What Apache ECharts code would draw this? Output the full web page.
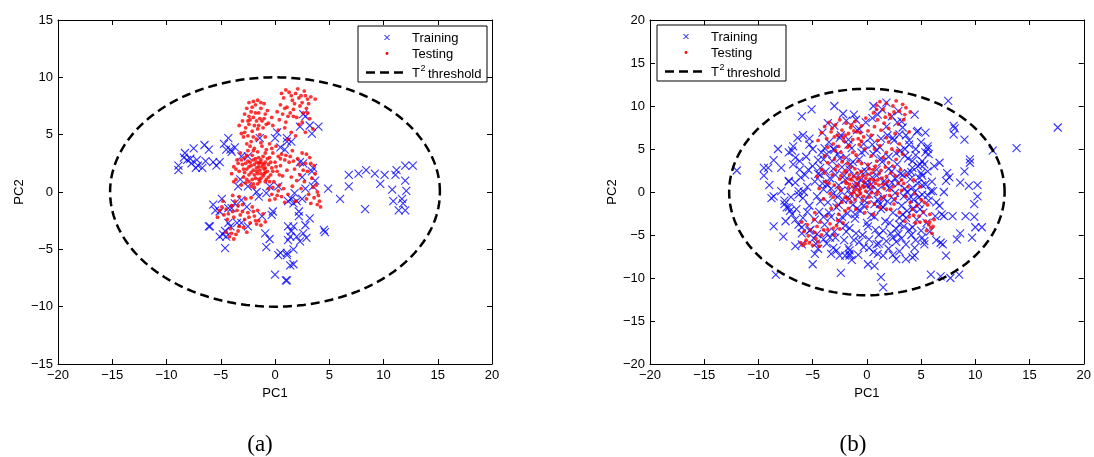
<!DOCTYPE html>
<html>
<head>
<meta charset="utf-8">
<script src="https://cdn.jsdelivr.net/npm/echarts@6/dist/echarts.min.js"></script>
<style>
html,body{margin:0;padding:0;background:#fff;}
#chart{width:1094px;height:457px;}
</style>
</head>
<body>
<div id="chart"></div>
<script>
// ---------- data ----------
const xTicksA = [-20, 20, 5];   // min, max, interval
const yTicksA = [-15, 15, 5];
const xTicksB = [-20, 20, 5];
const yTicksB = [-20, 20, 5];

// T^2 threshold ellipse semi-axes [PC1, PC2]
const ellipseAxesA = [15.2, 10.0];
const ellipseAxesB = [12.7, 12.0];

const trainA = [
[-8.3,3.4],[-7.5,3.8],[-8.4,3.0],[-8.1,2.8],[-7.7,2.5],[-7.2,2.8],[-7.3,2.1],[-6.7,2.1],[-6.4,2.7],[-5.7,2.6],
[-5.1,2.6],[-5.4,2.3],[-8.9,2.3],[-8.9,1.9],[-6.5,4.1],[-6.1,3.7],[-4.7,4.2],[-4.3,4.7],[-4.1,3.7],[-3.7,3.9],
[-4.5,3.7],[-4.0,3.5],[-7.8,2.9],[-7.1,2.3],[-3.1,3.1],[-2.5,3.1],[-1.4,4.7],[-3.2,1.1],[-3.4,0.5],[-2.5,0.5],
[-1.7,0.0],[-1.5,-0.4],[-0.8,-0.1],[-0.5,0.5],[0.3,0.5],[0.0,4.7],[0.2,5.2],[0.5,3.9],[1.1,4.4],[0.9,3.7],
[-4.9,-0.6],[-5.7,-1.1],[-5.5,-1.6],[-5.1,-1.7],[-4.3,-1.4],[-4.0,-1.4],[-3.7,-1.0],[-3.1,-0.7],[-2.6,-1.3],[-3.5,-2.7],
[-3.1,-2.7],[-2.5,-3.0],[-4.3,-2.7],[-4.1,-3.0],[-4.6,-3.4],[-4.8,-3.7],[-5.1,-3.9],[-4.5,-3.9],[-4.6,-4.9],[-6.0,-3.0],
[-6.1,-3.0],[-1.2,-2.1],[-0.9,-3.6],[-0.5,-4.1],[-0.8,-4.8],[0.5,-5.3],[0.3,-5.5],[1.1,-5.3],[0.0,-7.2],[1.0,-7.7],
[-0.2,-1.7],[-0.3,-2.0],[1.2,-3.0],
[2.6,6.8],[2.8,6.6],[3.2,5.8],[4.0,5.7],[3.4,5.1],[2.3,5.7],[1.1,4.7],[1.5,4.4],[2.3,2.6],[2.6,2.5],
[3.5,2.1],[3.4,1.8],[2.5,1.3],[3.7,1.0],[2.8,0.3],[3.5,0.5],[1.8,-0.1],[1.5,-0.6],[2.0,-0.8],[1.2,-0.8],
[1.7,-1.0],[2.5,-0.6],[2.2,-1.7],[2.2,-2.1],[3.2,-2.3],[2.8,-2.9],[1.7,-3.0],[1.5,-3.4],[1.4,-3.9],[2.0,-3.9],
[2.6,-3.6],[2.9,-4.0],[2.3,-4.3],[1.2,-4.2],[4.5,-3.3],[4.6,-3.5],[4.9,0.3],[6.0,-0.6],[6.8,1.5],[7.7,1.6],
[8.4,1.9],[9.2,1.6],[10.1,1.5],[6.8,0.5],[9.7,0.7],[8.3,-1.5],[11.2,1.9],[11.1,1.5],[12.0,2.3],[12.7,2.3],
[12.0,1.0],[10.8,0.2],[12.1,0.1],[10.9,-0.8],[11.7,-0.6],[11.8,-1.0],[11.4,-1.6],[12.0,-1.6],[1.7,-5.0],[1.1,-5.5],
[1.7,-6.3],[1.1,-7.7],[1.4,-6.4]
];

const testA = [
[-3.0,6.2],[-2.8,6.8],[-2.6,7.3],[-2.4,7.8],[-2.2,7.0],[-2.0,6.5],[-1.8,7.6],[-1.6,8.0],[-1.5,6.9],[-1.3,7.3],
[-1.2,6.2],[-1.0,7.7],[-0.9,6.8],[-2.7,5.6],[-2.4,5.9],[-2.1,5.3],[-1.9,5.8],[-1.6,5.5],[-1.4,5.0],[-1.1,5.6],
[-0.8,5.9],[-3.1,5.1],[-2.9,4.8],[-2.5,4.9],[-2.2,4.4],[-1.7,4.6],[-1.3,4.3],[-0.9,4.8],[-2.0,7.9],[-1.8,6.9],
[-2.3,6.3],[-1.4,6.4],[-0.7,7.1],[-3.3,5.8],[-2.6,4.2],
[0.2,7.0],[0.5,7.6],[0.8,8.2],[1.1,7.4],[1.3,8.7],[1.6,8.0],[1.9,8.6],[2.1,9.0],[2.4,8.4],[2.7,8.8],
[3.0,8.1],[3.3,8.3],[3.7,8.1],[0.4,6.3],[0.7,6.8],[1.0,6.1],[1.4,6.9],[1.7,7.2],[2.0,6.5],[2.3,7.5],
[2.6,6.9],[2.9,7.3],[3.2,6.4],[0.3,5.4],[0.9,5.6],[1.5,5.2],[2.2,5.9],[-0.3,6.5],[-0.2,5.8],[1.2,4.6],
[1.9,4.9],[2.8,5.2],[3.5,5.5],
[-4.0,1.6],[-3.8,2.2],[-3.6,1.1],[-3.5,2.8],[-3.3,1.8],[-3.2,3.4],[-3.0,2.4],[-2.9,1.3],[-2.8,3.0],[-2.7,0.8],
[-2.6,2.0],[-2.5,3.6],[-2.4,1.5],[-2.3,2.6],[-2.2,0.5],[-2.1,3.2],[-2.0,1.9],[-1.9,2.4],[-1.8,1.2],[-1.8,2.9],
[-1.7,2.1],[-1.6,1.6],[-1.6,3.5],[-1.5,2.5],[-1.4,1.9],[-1.4,0.9],[-1.3,2.8],[-1.2,2.2],[-1.1,1.4],[-1.1,3.1],
[-1.0,2.0],[-0.9,2.6],[-0.8,1.1],[-0.8,3.7],[-0.7,1.8],[-0.6,2.4],[-0.5,3.0],[-0.4,1.5],[-0.3,2.1],[-0.2,3.4],
[-0.1,0.9],[0.0,2.6],[0.2,1.8],[0.3,3.1],[0.5,2.3],[0.7,1.4],[0.9,2.8],[1.1,1.9],[-2.3,4.0],[-1.9,3.8],
[-1.2,4.0],[-0.5,4.2],[0.1,4.0],[-2.6,1.1],[-2.0,0.7],[-1.5,1.1],[-3.1,0.6],[-3.4,2.5],[-1.7,2.6],[-1.3,1.6],
[-0.9,1.7],[-2.2,2.3],[-2.5,2.7],[-1.0,2.4],
[1.0,3.2],[1.3,2.6],[1.6,3.6],[1.8,2.0],[2.1,2.9],[2.3,1.5],[2.5,3.4],[2.8,2.5],[3.0,1.8],[3.2,3.0],
[3.4,1.2],[3.6,2.3],[3.8,0.6],[4.0,-0.3],[4.1,-0.8],[4.2,-1.3],[3.9,0.0],[3.5,0.4],[3.1,-0.2],[2.7,0.9],
[2.4,0.3],[2.0,1.0],[1.6,0.5],[-0.6,0.3],[-0.3,-0.2],[0.0,-0.6],[0.3,0.1],[0.6,-0.4],[0.9,-0.9],[-0.5,-0.7],
[0.4,0.6],[1.2,-0.2],[1.5,1.3],[2.9,-0.6],[3.3,-1.0],[1.9,-0.8],
[-5.1,-1.6],[-4.9,-1.3],[-4.7,-2.0],[-4.5,-1.5],[-4.3,-1.9],[-4.0,-1.2],[-3.8,-2.2],[-3.7,-0.8],[-3.5,-1.6],[-3.3,-0.4],
[-3.2,-2.0],[-3.0,-1.1],[-2.8,-2.4],[-2.7,-0.6],[-2.5,-1.8],[-2.3,-2.7],[-2.1,-1.3],[-1.9,-2.1],[-1.7,-2.8],[-1.5,-2.5],
[-1.3,-2.9],[-4.5,-3.5],[-4.2,-3.9],[-4.0,-3.6],[-3.8,-4.1],[-3.6,-3.7],[-3.4,-3.4],[-2.9,-3.1],[-2.6,-3.5],[-4.8,-0.8],
[-5.3,-2.2],[-3.9,-0.3],[-2.2,-0.5],[-1.6,-1.6],[-1.1,-1.9],[-0.9,-2.6],
[-2.9,2.0],[-2.7,2.5],[-2.4,2.2],[-2.2,1.7],[-2.0,2.8],[-1.9,1.5],[-1.7,1.8],[-1.5,2.2],[-1.4,2.6],[-1.3,1.2],
[-1.2,2.5],[-1.0,1.6],[-0.9,2.1],[-0.7,2.9],[-0.6,1.3],[-0.4,2.6],[-0.2,1.8],[0.1,2.2],[0.4,1.5],[0.6,3.3],
[-3.6,2.0],[-3.1,2.8],[-2.6,3.2],[-2.0,3.6],[-1.5,3.0],[-0.9,3.4],[-0.3,3.8],[0.5,2.9],[-2.8,1.7],[-2.1,1.1],
[-1.6,0.7],[-0.9,0.9],[-2.4,6.6],[-2.1,7.4],[-1.7,6.2],[-1.3,7.8],[-1.0,6.4],[-2.8,5.2],[-2.0,4.8],[-1.5,5.8],
[-0.6,6.0],[-2.5,6.2],[0.6,8.6],[1.0,8.9],[1.5,8.4],[1.8,7.7],[2.2,8.2],[2.5,7.8],[2.8,8.4],[3.1,7.7],
[1.2,6.6],[2.5,6.1],[3.0,6.9],[0.9,7.3],[1.7,6.6],[-3.4,-1.2],[-3.0,-1.7],[-2.4,-2.2],[-4.4,-2.4],[-3.9,-1.7],
[-4.1,-3.2],[-3.3,-3.0],[-2.0,-1.7],[-1.8,-2.5],[2.2,2.4],[2.6,1.9],[3.3,2.5],[3.7,1.6],[2.9,3.3],[1.7,2.7],
[0.2,-0.3],[-0.2,0.4],[0.8,0.3],[3.6,-0.5],[3.9,-1.1],[1.4,3.1],[-0.5,0.9],[-1.9,0.4],[-2.4,0.9],[-3.8,0.9]
];

const trainB = [
[-12.0,2.5],[-3.0,10.0],[-5.1,9.6],[-6.0,8.8],[-6.4,6.3],[-5.9,6.6],[-5.3,6.2],[-5.3,5.5],[-8.2,5.0],[-7.2,4.6],
[-6.9,4.8],[-8.6,3.7],[-9.5,2.8],[-9.1,2.8],[-9.5,1.9],[-7.9,2.8],[-9.0,0.8],[-7.2,1.2],[-6.6,1.1],[-8.6,-0.5],
[-8.8,-0.7],[-7.9,0.1],[-7.6,-1.4],[-7.4,-1.8],[-7.1,-2.2],[-8.6,-4.0],[-7.7,-5.2],[-6.6,-6.3],[-6.0,-6.1],[-4.8,-7.2],
[-5.0,-8.4],[-8.4,-9.6],[-2.5,-7.4],[-1.6,-6.8],[-1.6,-7.4],[-2.4,-9.4],[0.1,-8.4],
[7.5,10.6],[4.4,9.0],[8.0,7.7],[8.1,7.4],[9.0,6.1],[8.0,6.7],[11.6,4.8],[9.5,3.8],[9.5,3.4],
[9.0,2.4],[7.4,2.2],[7.6,1.7],[7.3,1.3],[8.6,1.1],[9.4,0.7],[10.2,0.8],[10.2,-0.5],[9.9,-1.4],[9.1,-2.8],
[9.9,-2.9],[10.6,-4.1],[10.0,-4.1],[9.7,-5.3],[8.6,-4.8],[8.3,-5.5],[7.9,-2.8],[7.1,-2.8],[6.9,-2.6],[6.7,-1.6],
[6.4,-1.2],[6.1,0.1],[7.1,0.0],[6.8,-5.9],[7.3,-7.4],[5.9,-9.6],[6.8,-9.8],[7.7,-10.0],[8.5,-9.6],[1.3,-9.9],
[1.5,-11.1],[2.7,-7.8],[3.6,-7.8],[4.2,-7.6],[4.4,-7.4],[1.0,-7.2],[1.5,-7.4],[5.6,2.4],[6.2,3.0],[6.7,3.4],
[5.0,2.2],[5.1,1.9],[5.4,0.9],[5.9,0.1],[4.7,7.1],[5.4,6.9],[5.6,5.3],[5.6,5.0],[5.7,4.4],[5.1,3.6],
[7.0,-6.1],[6.4,-5.6],[5.1,-5.3],[5.3,-6.1],[17.6,7.5],[13.8,5.1],
[-6.6,4.0],[-6.2,3.6],[-7.2,1.3],[-6.3,0.1],[-5.9,-0.7],[-7.6,-1.0],[-7.2,-1.8],[-6.9,-2.6],[-6.6,-3.2],[-6.3,-3.8],
[-6.0,-4.1],[-5.3,-4.5],[-4.6,-4.9],[-4.0,-5.5],[-3.4,-5.3],[-3.1,-6.5],[-1.7,-6.5],[-1.6,-7.2],[-3.7,4.4],[-4.0,3.8],
[-4.3,2.8],[-4.5,2.1],[-1.0,8.4],[-0.1,8.1],[-0.7,7.3],[-2.5,6.3],[-1.7,5.5],[-3.1,5.0],
[0.6,10.0],[1.8,10.4],[2.8,8.1],[3.3,7.5],[3.0,6.7],[2.4,6.3],[3.9,5.5],[4.5,5.0],[3.5,4.2],[4.2,3.6],
[3.8,2.2],[4.8,1.7],[4.2,0.5],[5.1,-0.3],[5.7,-1.0],[4.8,-1.4],[4.2,-2.0],[3.6,-3.0],[3.0,-3.8],[4.2,-4.1],
[5.0,-4.5],[5.3,-5.7],[2.4,-5.3],[1.8,-5.7],[0.9,-6.1],[0.2,-6.5],[1.5,-4.5],[2.7,-4.3],[3.6,-6.1],[4.4,-6.5],
[-5.0,3.0],[-4.8,1.2],[-4.6,-0.5],[-4.4,-2.3],[-4.2,4.6],[-4.0,0.3],[-3.9,-3.8],[-3.8,2.4],[-3.6,-1.2],[-3.5,5.8],
[-3.4,1.6],[-3.3,-2.9],[-3.2,3.6],[-3.1,-0.2],[-3.0,-4.6],[-2.9,2.0],[-2.8,-1.8],[-2.7,4.4],[-2.6,0.8],[-2.5,-3.4],
[-2.4,6.6],[-2.3,2.9],[-2.2,-0.9],[-2.1,-5.6],[-2.0,1.4],[-1.9,4.0],[-1.8,-2.5],[-1.7,0.2],[-1.6,-4.2],[-1.5,3.2],
[-1.4,5.1],[-1.3,-1.5],[-1.2,1.9],[-1.1,-3.1],[-1.0,0.6],[-0.9,7.2],[-0.8,-0.5],[-0.7,3.8],[-0.6,-2.2],[-0.5,2.3],
[-0.4,-5.0],[-0.3,5.6],[-0.2,-1.0],[-0.1,1.1],[0.0,-3.6],[0.1,3.0],[0.2,-0.3],[0.3,6.3],[0.4,-2.7],[0.5,1.7],
[0.6,4.4],[0.7,-1.4],[0.8,-4.4],[0.9,2.6],[1.0,0.2],[1.1,-6.0],[1.2,5.2],[1.3,-2.0],[1.4,3.5],[1.5,-0.7],
[1.6,1.3],[1.7,-3.4],[1.8,7.6],[1.9,-1.1],[2.0,4.1],[2.1,0.5],[2.2,-4.8],[2.3,2.4],[2.4,-2.4],[2.5,6.0],
[2.6,-0.1],[2.7,-5.8],[2.8,3.2],[2.9,1.0],[3.0,-3.0],[3.1,4.8],[3.2,-1.6],[3.3,2.0],[3.4,-4.0],[3.5,0.4],
[3.6,6.6],[3.7,-2.2],[3.8,3.9],[3.9,-0.8],[4.0,1.5],[4.1,-5.0],[4.2,2.8],[4.3,-1.9],[4.4,0.0],[4.5,4.3],
[4.6,-3.2],[4.7,1.0],[4.8,-0.6],[4.9,3.2],[-5.3,-1.6],[-5.5,0.6],[-5.7,2.0],[-5.9,-3.0],[-6.1,1.7],[-6.3,-0.3],
[-5.6,4.1],[-5.2,-4.4],[-4.9,-5.4],[-4.5,-6.6],[-3.7,-6.0],[-2.8,-6.8],[-4.1,6.9],[-3.0,7.7],[-1.9,8.3],[-1.2,9.0],
[0.5,8.6],[1.4,9.6],[2.3,8.8],[3.2,8.2],[-0.3,-6.4],[0.6,-7.0],[-1.4,-7.9],[-3.3,-7.2],[3.0,-6.9],[2.0,-6.6],
[5.2,-2.4],[5.5,-3.6],[5.8,-4.6],[5.4,4.6],[5.0,5.8],[4.6,7.0],[-6.8,3.2],[-7.0,-0.6],[-6.5,-2.0],[-6.0,-4.8],
[-4.3,2.0],[-3.7,0.9],[-2.4,0.1],[-1.6,2.6],[-0.9,-1.9],[0.4,0.9],[1.0,-0.9],[2.6,1.6],[3.4,-0.5],[-2.0,-3.9],
[-0.2,4.8],[1.3,6.2],[-1.0,-4.8],[0.2,-5.5],[-4.0,-2.9],[-3.0,4.9],
[-4.8,-3.2],[-4.5,3.7],[-4.3,-1.1],[-4.1,1.0],[-3.9,5.1],[-3.7,-4.8],[-3.5,-2.4],[-3.3,0.4],[-3.1,2.7],[-2.9,-5.3],
[-2.7,-0.6],[-2.5,3.9],[-2.3,-2.9],[-2.1,1.9],[-1.9,-4.6],[-1.7,6.1],[-1.5,-0.3],[-1.3,3.5],[-1.1,-2.6],[-0.9,0.9],
[-0.7,-5.8],[-0.5,4.6],[-0.3,-1.6],[-0.1,2.4],[0.1,-4.0],[0.3,0.3],[0.5,5.5],[0.7,-2.9],[0.9,1.9],[1.1,-5.0],
[1.3,3.9],[1.5,-1.8],[1.7,0.9],[1.9,6.6],[2.1,-3.6],[2.3,1.1],[2.5,-0.9],[2.7,4.5],[2.9,-4.9],[3.1,2.1],
[3.3,-2.6],[3.5,5.0],[3.7,0.0],[3.9,-4.4],[4.1,2.3],[4.3,-0.9],[4.5,-5.6],[4.7,3.0],[4.9,-2.0],[5.1,0.8],
[-5.5,-2.3],[-5.8,0.0],[-5.0,5.0],[-4.7,-6.0],[-6.2,2.6],[-5.4,2.6],[5.6,-0.4],[5.3,3.2],[6.0,1.2],[6.3,-2.8],
[-2.0,-7.4],[-0.8,-7.3],[0.7,-8.6],[2.4,-7.3],[-3.6,8.0],[-2.2,9.1],[1.0,9.0],[2.9,9.4],[-6.8,5.3],[-7.5,-3.4],
[-1.6,-0.8],[0.0,0.8],[1.2,-1.4],[2.0,2.7],[-0.6,1.4],[-2.6,-1.5],[0.9,4.9],[-1.2,-5.6],[3.2,-5.4],[3.9,6.0]
];

const testB = [
[-4.2,6.9],[-3.9,7.6],[-3.7,6.2],[-3.5,8.1],[-3.3,7.0],[-3.1,5.6],[-2.9,7.8],[-2.7,6.6],[-2.5,8.4],[-2.3,7.2],
[-2.1,5.9],[-1.9,8.0],[-1.7,6.8],[-1.5,7.5],[-1.3,6.1],[-1.1,8.2],[-0.9,7.0],[-0.7,5.5],[-0.5,7.7],[-0.3,6.4],
[-0.1,8.6],[0.1,7.1],[-3.6,5.2],[-2.6,5.3],[-1.8,5.2],[-0.8,6.2],[-4.5,6.0],[-2.0,6.6],[-1.2,7.1],[-3.0,6.4],
[0.6,9.2],[0.9,10.1],[1.2,10.5],[1.5,9.6],[1.8,10.3],[2.1,9.0],[2.4,10.0],[2.7,10.6],[3.0,9.4],[3.3,10.2],
[3.6,9.8],[4.0,9.3],[1.0,8.4],[1.6,8.0],[2.2,8.6],[2.9,7.9],[3.4,8.4],[0.7,7.6],[1.3,7.2],[2.0,7.4],
[3.9,7.0],[2.6,6.8],[0.4,6.6],[1.8,6.3],
[-4.6,1.8],[-4.4,0.4],[-4.2,2.6],[-4.0,-0.8],[-3.8,1.2],[-3.6,3.4],[-3.4,-0.2],[-3.2,2.0],[-3.0,0.8],[-2.8,-1.6],
[-2.7,3.0],[-2.5,1.5],[-2.4,0.2],[-2.2,4.0],[-2.1,2.3],[-2.0,-0.6],[-1.9,1.0],[-1.8,3.3],[-1.7,0.5],[-1.6,2.0],
[-1.5,-1.2],[-1.4,1.4],[-1.3,4.6],[-1.2,0.0],[-1.1,2.7],[-1.0,1.0],[-0.9,-0.4],[-0.8,3.6],[-0.7,1.7],[-0.6,0.4],
[-0.5,2.4],[-0.4,-1.0],[-0.3,1.2],[-0.2,5.0],[-0.1,0.1],[0.0,2.0],[0.1,3.2],[0.2,-0.6],[0.3,1.5],[0.4,4.2],
[0.5,0.5],[0.6,2.6],[0.7,-1.4],[0.8,1.0],[0.9,3.6],[1.0,0.0],[1.1,2.1],[1.2,5.4],[1.3,-0.8],[1.4,1.6],
[1.5,4.0],[1.6,0.4],[1.7,2.9],[1.8,-2.0],[1.9,1.2],[2.0,3.4],[2.1,-0.4],[2.2,2.2],[2.3,5.0],[2.4,0.6],
[2.5,-1.4],[2.6,1.9],[2.7,3.8],[2.8,-0.2],[2.9,1.0],[3.0,-2.4],[3.1,2.6],[3.2,0.2],[3.3,4.4],[-1.6,0.9],
[-0.9,1.5],[-0.4,0.7],[0.3,0.9],[-1.2,1.8],[-0.6,-0.2],[0.9,-0.3],[-2.3,-1.2],[-3.3,-1.9],[-2.0,-2.2],[-1.0,-2.0],
[-0.2,-2.4],[0.6,-2.6],[-3.9,4.2],[-2.9,4.8],[-1.6,5.4],[-0.5,5.9],[1.0,6.0],[2.0,5.8],[3.0,5.6],
[3.4,1.0],[3.6,-0.5],[3.8,0.6],[4.0,-1.2],[4.2,-2.0],[4.4,-0.2],[4.6,-1.6],[4.8,-2.8],[5.0,-0.9],[5.2,-2.3],
[5.4,-3.4],[5.6,-1.5],[5.7,-3.8],[5.9,-4.2],[6.1,-4.0],[6.2,-3.2],[5.8,-2.6],[4.5,-3.6],[3.9,-2.9],[3.5,-3.4],
[4.9,0.6],[4.3,1.4],[5.5,-4.5],[6.0,-4.8],
[-6.1,-5.9],[-5.9,-6.2],[-5.6,-5.6],[-5.3,-5.9],[-5.0,-6.2],[-4.7,-5.4],[-4.4,-6.3],[-4.2,-5.0],[-5.8,-4.6],[-5.5,-3.8],
[-5.2,-4.4],[-4.9,-3.2],[-4.6,-4.0],[-4.3,-3.5],[-4.0,-4.4],[-3.4,-3.7],[-3.1,-4.2],[-2.8,-3.9],[-2.5,-4.3],[-2.2,-3.6],
[-3.7,-2.8],[-4.8,-2.4],[-6.0,-3.5],[-3.0,-5.0],
[-2.9,2.6],[-2.6,0.5],[-2.3,3.5],[-2.0,1.2],[-1.8,-0.8],[-1.5,2.9],[-1.3,0.6],[-1.1,-0.9],[-0.9,2.2],[-0.7,0.1],
[-0.5,3.3],[-0.3,-0.5],[-0.1,1.6],[0.2,2.7],[0.4,-0.1],[0.6,1.4],[0.8,3.0],[1.1,0.8],[1.3,2.5],[1.6,-0.5],
[1.8,1.8],[2.1,0.2],[2.4,3.0],[-3.5,1.0],[-3.9,2.2],[-3.1,-0.6],[-2.4,1.9],[-1.9,2.5],[-1.4,-0.2],[-0.8,0.8],
[-0.2,0.6],[0.4,2.2],[1.0,1.4],[-1.6,1.5],[-1.0,0.3],[-0.4,1.9],[0.2,-1.2],[1.5,0.9],[2.6,-0.8],[3.2,1.4],
[-2.2,6.3],[-1.4,7.8],[-0.6,6.9],[-3.2,7.4],[0.9,9.6],[2.5,9.3],[1.7,8.7],[3.5,9.0],[-2.4,4.6],[-1.0,4.3],
[0.7,5.0],[1.8,4.6],[2.8,4.8],[4.3,-2.7],[4.9,-3.5],[5.3,-1.2],[5.8,-3.5],[-5.4,-5.1],[-4.8,-4.7],[-4.5,-5.8],
[-3.6,-4.4],[-2.7,-3.3],[-5.7,-6.0],[-1.7,-1.9],[-2.6,-2.6],[0.0,-1.7],[1.2,-1.8],[2.2,-2.0],[3.6,2.0],[-3.0,3.8]
];

// ---------- helpers ----------
function ellipsePoints(ax) {
  const pts = [];
  const n = 180;
  for (let i = 0; i <= n; i++) {
    const t = 2 * Math.PI * i / n;
    pts.push([ax[0] * Math.cos(t), ax[1] * Math.sin(t)]);
  }
  return pts;
}
const minus = v => String(v).replace('-', '\u2212');
const FONT = 'Liberation Sans, Arial, Helvetica, sans-serif';

function axis(dim, grid, pos, ticks, showLabel, name, nameGap) {
  const a = {
    type: 'value', gridIndex: grid, position: pos,
    min: ticks[0], max: ticks[1], interval: ticks[2],
    axisLine: { show: true, onZero: false, lineStyle: { color: '#000', width: 1 } },
    axisTick: { show: true, inside: true, length: 5, lineStyle: { color: '#000', width: 1 } },
    splitLine: { show: false },
    axisLabel: { show: showLabel, color: '#000', fontSize: 13, fontFamily: FONT,
                 margin: 5, formatter: minus }
  };
  if (name) {
    a.name = name; a.nameLocation = 'middle'; a.nameGap = nameGap;
    a.nameTextStyle = { color: '#000', fontSize: 13, fontFamily: FONT };
  }
  return a;
}

const xMark = 'path://M0,0L10,10M10,0L0,10';

function legendGraphic(x0, y0) {
  const g = [];
  g.push({ type: 'rect', shape: { x: x0, y: y0, width: 129, height: 56 },
           style: { fill: '#fff', stroke: '#000', lineWidth: 1 }, z: 100 });
  const mx = x0 + 29;
  const my = y0 + 11.5;
  g.push({ type: 'line', shape: { x1: mx - 2.5, y1: my - 2.5, x2: mx + 2.5, y2: my + 2.5 },
           style: { stroke: '#0000ff', lineWidth: 1 }, z: 101 });
  g.push({ type: 'line', shape: { x1: mx + 2.5, y1: my - 2.5, x2: mx - 2.5, y2: my + 2.5 },
           style: { stroke: '#0000ff', lineWidth: 1 }, z: 101 });
  g.push({ type: 'circle', shape: { cx: mx, cy: y0 + 27.5, r: 1.4 }, style: { fill: '#ff0000' }, z: 101 });
  g.push({ type: 'line', shape: { x1: x0 + 8, y1: y0 + 46.5, x2: x0 + 49, y2: y0 + 46.5 },
           style: { stroke: '#000', lineWidth: 2.5, lineDash: [9, 5] }, z: 101 });
  const tx = x0 + 54;
  const txt = (s, x, y, size) => ({ type: 'text', x: x, y: y, z: 101,
           style: { text: s, fill: '#000', font: size + 'px ' + FONT, verticalAlign: 'middle' } });
  g.push(txt('Training', tx, y0 + 12, 13));
  g.push(txt('Testing', tx, y0 + 28, 13));
  g.push(txt('T', tx, y0 + 47.5, 13));
  g.push(txt('2', tx + 8.5, y0 + 42.5, 9));
  g.push(txt('threshold', tx + 16, y0 + 48, 13));
  return g;
}

const chart = echarts.init(document.getElementById('chart'), null, { renderer: 'canvas' });
chart.setOption({
  animation: false,
  backgroundColor: '#fff',
  grid: [
    { left: 58, top: 20, width: 434, height: 344 },
    { left: 650, top: 20, width: 437, height: 344 }
  ],
  xAxis: [
    axis('x', 0, 'bottom', xTicksA, true, 'PC1', 21),
    axis('x', 0, 'top', xTicksA, false),
    axis('x', 1, 'bottom', xTicksB, true, 'PC1', 21),
    axis('x', 1, 'top', xTicksB, false)
  ],
  yAxis: [
    axis('y', 0, 'left', yTicksA, true, 'PC2', 32),
    axis('y', 0, 'right', yTicksA, false),
    axis('y', 1, 'left', yTicksB, true, 'PC2', 30),
    axis('y', 1, 'right', yTicksB, false)
  ],
  series: [
    { type: 'scatter', name: 'Training', xAxisIndex: 0, yAxisIndex: 0, data: trainA,
      symbol: xMark, symbolSize: 8, itemStyle: { color: 'transparent', borderColor: '#0000ff', borderWidth: 1.1 } },
    { type: 'scatter', name: 'Testing', xAxisIndex: 0, yAxisIndex: 0, data: testA,
      symbol: 'circle', symbolSize: 3.8, itemStyle: { color: '#ff0000' } },
    { type: 'line', name: 'T2 threshold', xAxisIndex: 0, yAxisIndex: 0, data: ellipsePoints(ellipseAxesA),
      showSymbol: false, symbol: 'none', lineStyle: { color: '#000', width: 2.5, type: [9, 5] } },
    { type: 'scatter', name: 'Training', xAxisIndex: 2, yAxisIndex: 2, data: trainB,
      symbol: xMark, symbolSize: 8, itemStyle: { color: 'transparent', borderColor: '#0000ff', borderWidth: 1.1 } },
    { type: 'scatter', name: 'Testing', xAxisIndex: 2, yAxisIndex: 2, data: testB,
      symbol: 'circle', symbolSize: 3.8, itemStyle: { color: '#ff0000' } },
    { type: 'line', name: 'T2 threshold', xAxisIndex: 2, yAxisIndex: 2, data: ellipsePoints(ellipseAxesB),
      showSymbol: false, symbol: 'none', lineStyle: { color: '#000', width: 2.5, type: [9, 5] } }
  ],
  graphic: [].concat(
    legendGraphic(358, 26),
    legendGraphic(657, 25),
    [
      { type: 'text', x: 260, y: 445, style: { text: '(a)', fill: '#000', font: '23px "Liberation Serif", "DejaVu Serif", serif', align: 'center', verticalAlign: 'middle' } },
      { type: 'text', x: 853, y: 445, style: { text: '(b)', fill: '#000', font: '23px "Liberation Serif", "DejaVu Serif", serif', align: 'center', verticalAlign: 'middle' } }
    ]
  )
});
</script>
</body>
</html>
